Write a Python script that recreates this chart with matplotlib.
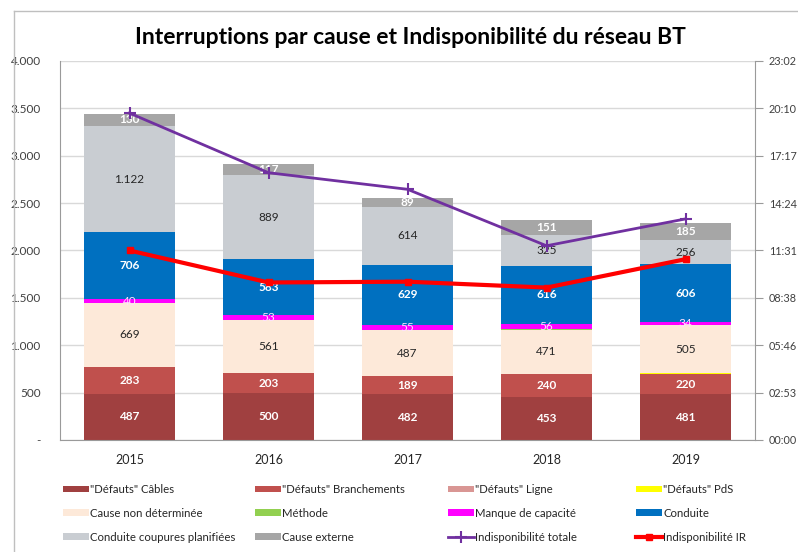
import numpy as np
import matplotlib
matplotlib.use("Agg")
import matplotlib.pyplot as plt
from matplotlib.lines import Line2D
from matplotlib.patches import Patch
from matplotlib.ticker import FuncFormatter

plt.rcParams["font.family"] = ["Lato", "DejaVu Sans"]

# Données
annees = ["2015", "2016", "2017", "2018", "2019"]
cables = [487, 500, 482, 453, 481]
branchements = [283, 203, 189, 240, 220]
ligne = [0, 0, 0, 0, 0]
pds = [5, 4, 3, 2, 6]
non_determinee = [669, 561, 487, 471, 505]
methode = [2, 2, 2, 3, 1]
manque_capacite = [40, 53, 55, 56, 34]
conduite = [706, 583, 629, 616, 606]
coupures_planifiees = [1122, 889, 614, 325, 256]
cause_externe = [130, 117, 89, 151, 185]

# Indisponibilité en fraction de jour (format heure Excel)
indispo_totale = [0.828, 0.677, 0.635, 0.492, 0.560]
indispo_ir = [0.480, 0.399, 0.401, 0.386, 0.458]

series = [
    ('"Défauts" Câbles', cables, "#A04040", "white", "bold"),
    ('"Défauts" Branchements', branchements, "#C0504D", "white", "bold"),
    ('"Défauts" Ligne', ligne, "#D99694", None, None),
    ('"Défauts" PdS', pds, "#FFFF00", None, None),
    ("Cause non déterminée", non_determinee, "#FDE9D9", "#262626", "normal"),
    ("Méthode", methode, "#92D050", None, None),
    ("Manque de capacité", manque_capacite, "#FF00FF", "#FFE0FF", "normal"),
    ("Conduite", conduite, "#0070C0", "white", "bold"),
    ("Conduite coupures planifiées", coupures_planifiees, "#C9CDD2", "#262626", "normal"),
    ("Cause externe", cause_externe, "#A6A6A6", "white", "bold"),
]

fig = plt.figure(figsize=(7.98, 5.52), dpi=100)
ax = fig.add_axes([60 / 798, 112 / 552, 695 / 798, 379 / 552])

x = np.arange(len(annees))
bottom = np.zeros(len(annees))
handles = []
for nom, vals, couleur, txt_col, poids in series:
    vals = np.array(vals, dtype=float)
    ax.bar(x, vals, 0.65, bottom=bottom, color=couleur, zorder=2)
    if txt_col is not None:
        for xi, b, v in zip(x, bottom, vals):
            ax.text(xi, b + v / 2, f"{v:,.0f}".replace(",", "."), ha="center", va="center",
                    color=txt_col, fontsize=8.5, fontweight=poids, zorder=3)
    bottom += vals
    handles.append(Patch(facecolor=couleur, label=nom))

ax.set_xlim(-0.5, 4.5)
ax.set_ylim(0, 4000)
ax.set_yticks(np.arange(0, 4001, 500))
ax.yaxis.set_major_formatter(FuncFormatter(lambda v, p: "-" if v == 0 else f"{v:,.0f}".replace(",", ".")))
ax.set_xticks(x)
ax.set_xticklabels(annees)
ax.grid(axis="y", color="#D9D9D9", linewidth=1, zorder=0)
ax.set_axisbelow(True)
ax.tick_params(axis="y", length=0, pad=14, labelsize=8.5, labelcolor="#404040")
ax.tick_params(axis="x", length=0, pad=10, labelsize=9, labelcolor="#262626")
for s in ["top", "right"]:
    ax.spines[s].set_visible(False)
for s in ["left", "bottom"]:
    ax.spines[s].set_color("#9A9A9A")

# Axe secondaire : heures
ax2 = ax.twinx()
ax2.set_ylim(0, 0.96)
ax2.set_yticks(np.arange(0, 0.961, 0.12))


def fmt_heure(v, p):
    m = int(round(v * 1440))
    return f"{m // 60:02d}:{m % 60:02d}"


ax2.yaxis.set_major_formatter(FuncFormatter(fmt_heure))
ax2.tick_params(axis="y", length=6, color="#9A9A9A", pad=4, labelsize=7.8, labelcolor="#404040")
for s in ["top", "left", "bottom"]:
    ax2.spines[s].set_visible(False)
ax2.spines["right"].set_color("#9A9A9A")

l_tot, = ax2.plot(x, indispo_totale, color="#7030A0", linewidth=2, marker="+", markersize=9,
                  markeredgewidth=1.5, label="Indisponibilité totale", zorder=5)
l_ir, = ax2.plot(x, indispo_ir, color="#FF0000", linewidth=3, marker="s", markersize=4,
                 label="Indisponibilité IR", zorder=5)
handles += [l_tot, l_ir]

fig.suptitle("Interruptions par cause et Indisponibilité du réseau BT", x=410 / 798, y=1 - 37 / 552,
             va="center", fontsize=16.5, fontweight="bold", color="black")

# Légende : 4 colonnes, 3 lignes
col_x = [63, 255, 448, 636]
for c in range(4):
    hs = [handles[r * 4 + c] for r in range(3)]
    fig.legend(handles=hs, loc="upper left", bbox_to_anchor=(col_x[c] / 798, 1 - 484 / 552),
               frameon=False, fontsize=8.2, handlelength=2.3, handleheight=0.5, handletextpad=0.1,
               labelspacing=1.12, borderaxespad=0, borderpad=0, labelcolor="#262626")

# Cadre du graphique
fig.add_artist(Line2D([14 / 798, 14 / 798], [0, 1 - 11 / 552], color="#BFBFBF", linewidth=1))
fig.add_artist(Line2D([14 / 798, 1], [1 - 11 / 552, 1 - 11 / 552], color="#BFBFBF", linewidth=1))

fig.savefig("out.png", dpi=100)
